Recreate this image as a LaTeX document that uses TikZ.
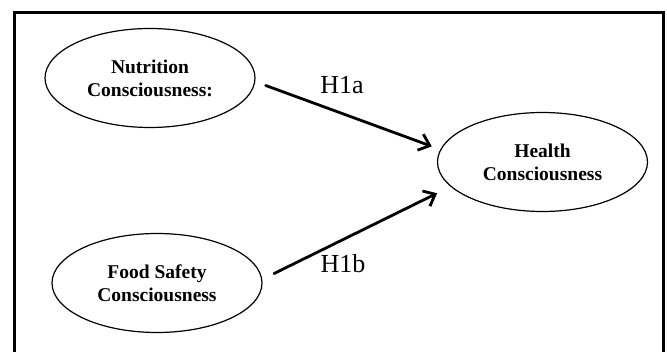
\documentclass[tikz,border=0pt]{standalone}
\usepackage{fontspec}
\setmainfont{Liberation Serif}
\usetikzlibrary{shapes.geometric,arrows.meta}

\begin{document}
\begin{tikzpicture}[line cap=round, line join=round, x=1pt, y=-1pt,
        construct/.style={ellipse, draw, line width=1.2pt, minimum width=210pt, minimum height=99pt,
            inner sep=0pt, align=center, font=\fontsize{19.5}{23}\selectfont\bfseries},
        effect/.style={line width=2.8pt, -{Straight Barb[length=10pt, width=17pt, line width=2.8pt]}},
        hyp/.style={font=\fontsize{26}{30}\selectfont}]
                \useasboundingbox (0,0) rectangle (667,352);
                \clip (0,0) rectangle (667,352);
                \draw[line width=3pt, line cap=butt, line join=miter] (14,360) -- (14,13) -- (663,13) -- (663,360);
                \coordinate (nc) at (150,78);
                \coordinate (fc) at (157,283);
                \coordinate (hc) at (542.5,162);
                \foreach \name/\pos/\txt in {n/nc/{Nutrition\\Consciousness:}, f/fc/{Food Safety\\Consciousness}, h/hc/{Health\\Consciousness}}
                    \node[construct] (\name) at (\pos) {\txt};
                \draw[effect, shorten <=11pt, shorten >=9pt] (n.-2.8) -- (h.173.3);
                \draw[effect, shorten <=13pt, shorten >=15pt] (f.2.9) -- (h.-165.1);
                \node[hyp] (h1a) at (342,85) {H1a};
                \node[hyp] (h1b) at (343,264) {H1b};
            \end{tikzpicture}
\end{document}
